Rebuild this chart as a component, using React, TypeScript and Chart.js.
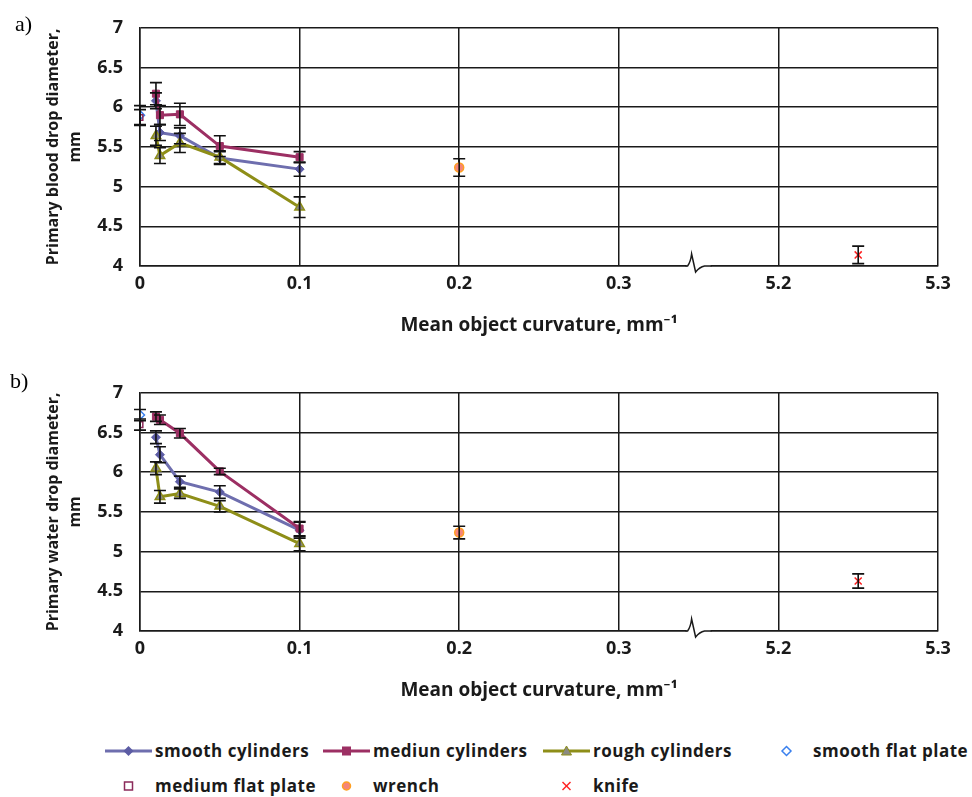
import React, { useEffect, useRef } from "react";
import { Chart, registerables } from "chart.js";

Chart.register(...registerables);

// ---------- data ----------
const cylinderCurvature = [0.01, 0.0125, 0.025, 0.05, 0.1];
const plateCurvature = 0;
const wrenchCurvature = 0.2;
const knifeCurvature = 5.25;

const xTickValues = [0, 0.1, 0.2, 0.3, 5.2, 5.3];
const xTickLabels = ["0", "0.1", "0.2", "0.3", "5.2", "5.3"];
const yMin = 4;
const yMax = 7;
const yStep = 0.5;

// a) blood
const bloodSmooth = [6.08, 5.68, 5.64, 5.36, 5.22];
const bloodSmoothErr = [0.1, 0.1, 0.1, 0.08, 0.09];
const bloodMedium = [6.17, 5.9, 5.91, 5.51, 5.37];
const bloodMediumErr = [0.14, 0.12, 0.14, 0.13, 0.07];
const bloodRough = [5.64, 5.39, 5.55, 5.37, 4.74];
const bloodRoughErr = [0.12, 0.1, 0.12, 0.08, 0.13];
const bloodSmoothPlate = [5.9];
const bloodSmoothPlateErr = [0.12];
const bloodMediumPlate = [5.87];
const bloodMediumPlateErr = [0.1];
const bloodWrench = [5.24];
const bloodWrenchErr = [0.11];
const bloodKnife = [4.14];
const bloodKnifeErr = [0.11];

// b) water
const waterSmooth = [6.44, 6.22, 5.88, 5.75, 5.27];
const waterSmoothErr = [0.08, 0.1, 0.07, 0.08, 0.1];
const waterMedium = [6.7, 6.66, 6.49, 6.01, 5.29];
const waterMediumErr = [0.06, 0.06, 0.06, 0.04, 0.09];
const waterRough = [6.05, 5.69, 5.73, 5.57, 5.1];
const waterRoughErr = [0.08, 0.08, 0.06, 0.07, 0.09];
const waterSmoothPlate = [6.72];
const waterSmoothPlateErr = [0.07];
const waterMediumPlate = [6.6];
const waterMediumPlateErr = [0.07];
const waterWrench = [5.24];
const waterWrenchErr = [0.08];
const waterKnife = [4.63];
const waterKnifeErr = [0.09];

const seriesLabels = [
  "smooth cylinders",
  "mediun cylinders",
  "rough cylinders",
  "smooth flat plate",
  "medium flat plate",
  "wrench",
  "knife",
];

// ---------- styling ----------
const FONT = "'Open Sans', 'Noto Sans', sans-serif";
const INK = "#1a1a1a";
const C_SMOOTH = "#6e6eae";
const C_SMOOTH_PT = "#5c5ca4";
const C_MEDIUM = "#9c2f63";
const C_ROUGH = "#8e8e18";
const C_ROUGH_PT = "#8a8a80";
const C_SPLATE = "#3a80ee";
const C_MPLATE = "#8b2a5a";
const C_WRENCH_FILL = "#f4857a";
const C_WRENCH_BORDER = "#ffa020";
const C_KNIFE = "#ff2020";

// axis break: values beyond the break are shifted left
const BREAK_AT = 0.35;
const BREAK_SHIFT = 4.8;
const mapX = (v: number) => (v > BREAK_AT ? v - BREAK_SHIFT : v);

const pts = (xs: number[], ys: number[]) => ys.map((y, i) => ({ x: mapX(xs[i]), y }));
const single = (x: number, ys: number[]) => ys.map((y) => ({ x: mapX(x), y }));

type SetData = {
  smooth: number[]; smoothErr: number[];
  medium: number[]; mediumErr: number[];
  rough: number[]; roughErr: number[];
  sPlate: number[]; sPlateErr: number[];
  mPlate: number[]; mPlateErr: number[];
  wrench: number[]; wrenchErr: number[];
  knife: number[]; knifeErr: number[];
};

function buildDatasets(d: SetData): any[] {
  return [
    {
      label: seriesLabels[0], data: pts(cylinderCurvature, d.smooth), errors: d.smoothErr,
      showLine: true, borderColor: C_SMOOTH, borderWidth: 3, tension: 0,
      pointStyle: "rectRot", pointRadius: 4.5, backgroundColor: C_SMOOTH_PT, pointBorderColor: C_SMOOTH_PT, pointBorderWidth: 1, order: 6,
    },
    {
      label: seriesLabels[1], data: pts(cylinderCurvature, d.medium), errors: d.mediumErr,
      showLine: true, borderColor: C_MEDIUM, borderWidth: 3, tension: 0,
      pointStyle: "rect", pointRadius: 5, backgroundColor: C_MEDIUM, pointBorderColor: C_MEDIUM, pointBorderWidth: 1, order: 5,
    },
    {
      label: seriesLabels[2], data: pts(cylinderCurvature, d.rough), errors: d.roughErr,
      showLine: true, borderColor: C_ROUGH, borderWidth: 3, tension: 0,
      pointStyle: "triangle", pointRadius: 5.5, backgroundColor: C_ROUGH_PT, pointBorderColor: C_ROUGH, pointBorderWidth: 1.5, order: 4,
    },
    {
      label: seriesLabels[3], data: single(plateCurvature, d.sPlate), errors: d.sPlateErr,
      showLine: false, pointStyle: "rectRot", pointRadius: 4.5, backgroundColor: "#ffffff", borderColor: C_SPLATE, pointBorderWidth: 1.5, order: 3,
    },
    {
      label: seriesLabels[4], data: single(plateCurvature, d.mPlate), errors: d.mPlateErr,
      showLine: false, pointStyle: "rect", pointRadius: 4, backgroundColor: "rgba(255,255,255,0)", borderColor: C_MPLATE, pointBorderWidth: 1.5, order: 2,
    },
    {
      label: seriesLabels[5], data: single(wrenchCurvature, d.wrench), errors: d.wrenchErr,
      showLine: false, pointStyle: "circle", pointRadius: 4.5, backgroundColor: C_WRENCH_FILL, borderColor: C_WRENCH_BORDER, pointBorderWidth: 1.5, order: 1,
    },
    {
      label: seriesLabels[6], data: single(knifeCurvature, d.knife), errors: d.knifeErr,
      showLine: false, pointStyle: "crossRot", pointRadius: 5, backgroundColor: C_KNIFE, borderColor: C_KNIFE, pointBorderWidth: 1.5, order: 0,
    },
  ];
}

const errorBarPlugin = {
  id: "errorBars",
  afterDatasetsDraw(chart: any) {
    const ctx = chart.ctx;
    const xs = chart.scales.x;
    const ys = chart.scales.y;
    ctx.save();
    ctx.strokeStyle = "#111111";
    ctx.lineWidth = 1.6;
    chart.data.datasets.forEach((ds: any) => {
      if (!ds.errors) return;
      ds.data.forEach((p: any, j: number) => {
        const e = ds.errors[j];
        if (!e) return;
        const x = xs.getPixelForValue(p.x);
        const y1 = ys.getPixelForValue(p.y + e);
        const y2 = ys.getPixelForValue(p.y - e);
        ctx.beginPath();
        ctx.moveTo(x, y1);
        ctx.lineTo(x, y2);
        ctx.moveTo(x - 6, y1);
        ctx.lineTo(x + 6, y1);
        ctx.moveTo(x - 6, y2);
        ctx.lineTo(x + 6, y2);
        ctx.stroke();
      });
    });
    ctx.restore();
  },
};

const axisBreakPlugin = {
  id: "axisBreak",
  afterDraw(chart: any) {
    const ctx = chart.ctx;
    const x = chart.scales.x.getPixelForValue(BREAK_AT);
    const y = chart.chartArea.bottom;
    ctx.save();
    ctx.fillStyle = "#ffffff";
    ctx.fillRect(x - 12, y - 3, 24, 6);
    ctx.strokeStyle = INK;
    ctx.lineWidth = 1.5;
    ctx.beginPath();
    ctx.moveTo(x - 13, y);
    ctx.lineTo(x - 11, y);
    ctx.quadraticCurveTo(x - 8, y - 4, x - 7, y - 12);
    ctx.lineTo(x - 3, y + 6);
    ctx.quadraticCurveTo(x + 1, y + 1, x + 6, y);
    ctx.lineTo(x + 13, y);
    ctx.stroke();
    ctx.restore();
  },
};

const CANVAS_W = 972;
const CANVAS_H = 345;
const PLOT_LEFT = 140;
const PLOT_RIGHT = 938;
const PLOT_TOP = 25;
const PLOT_BOTTOM = 266;

function DropChart({ data, yTitle }: { data: SetData; yTitle: string }) {
  const ref = useRef<HTMLCanvasElement | null>(null);
  useEffect(() => {
    if (!ref.current) return;
    const tickFont = { family: FONT, size: 18, weight: "bold" as const };
    const chart = new Chart(ref.current, {
      type: "scatter",
      data: { datasets: buildDatasets(data) },
      options: {
        animation: false,
        responsive: false,
        maintainAspectRatio: false,
        layout: { padding: { top: PLOT_TOP, right: CANVAS_W - PLOT_RIGHT, left: 0, bottom: 0 } },
        plugins: { legend: { display: false }, tooltip: { enabled: false } },
        scales: {
          x: {
            type: "linear",
            min: mapX(xTickValues[0]),
            max: mapX(xTickValues[xTickValues.length - 1]),
            afterBuildTicks: (s: any) => {
              s.ticks = xTickValues.map((v) => ({ value: mapX(v) }));
            },
            afterFit: (s: any) => {
              s.height = CANVAS_H - PLOT_BOTTOM;
            },
            ticks: {
              callback: (_v: any, i: number) => xTickLabels[i],
              font: tickFont,
              color: INK,
              padding: 7,
              maxRotation: 0,
              autoSkip: false,
            },
            grid: { color: INK, lineWidth: 1.5, drawTicks: false },
            border: { display: true, color: INK, width: 1.5 },
            title: {
              display: true,
              text: "Mean object curvature, mm\u207B\u00B9",
              font: { family: FONT, size: 19, weight: "bold" },
              color: INK,
              padding: { top: 0, bottom: 8 },
            },
          },
          y: {
            type: "linear",
            min: yMin,
            max: yMax,
            afterFit: (s: any) => {
              s.width = PLOT_LEFT;
            },
            ticks: {
              stepSize: yStep,
              font: tickFont,
              color: INK,
              padding: 17,
              callback: (v: any) => String(Number(v)),
            },
            grid: { color: INK, lineWidth: 1.5, drawTicks: false },
            border: { display: true, color: INK, width: 1.5 },
            title: {
              display: true,
              text: [yTitle, "mm"],
              font: { family: FONT, size: 16, weight: "bold", lineHeight: 1.35 },
              color: INK,
              padding: { top: 43, bottom: 0 },
            },
          },
        },
      } as any,
      plugins: [errorBarPlugin, axisBreakPlugin],
    });
    return () => chart.destroy();
  }, [data, yTitle]);
  return <canvas ref={ref} width={CANVAS_W} height={CANVAS_H} style={{ display: "block", width: CANVAS_W, height: CANVAS_H }} />;
}

const bloodData: SetData = {
  smooth: bloodSmooth, smoothErr: bloodSmoothErr,
  medium: bloodMedium, mediumErr: bloodMediumErr,
  rough: bloodRough, roughErr: bloodRoughErr,
  sPlate: bloodSmoothPlate, sPlateErr: bloodSmoothPlateErr,
  mPlate: bloodMediumPlate, mPlateErr: bloodMediumPlateErr,
  wrench: bloodWrench, wrenchErr: bloodWrenchErr,
  knife: bloodKnife, knifeErr: bloodKnifeErr,
};

const waterData: SetData = {
  smooth: waterSmooth, smoothErr: waterSmoothErr,
  medium: waterMedium, mediumErr: waterMediumErr,
  rough: waterRough, roughErr: waterRoughErr,
  sPlate: waterSmoothPlate, sPlateErr: waterSmoothPlateErr,
  mPlate: waterMediumPlate, mPlateErr: waterMediumPlateErr,
  wrench: waterWrench, wrenchErr: waterWrenchErr,
  knife: waterKnife, knifeErr: waterKnifeErr,
};

// ---------- legend ----------
function LegendMarker({ kind }: { kind: number }) {
  const w = 47, h = 14, cx = 23.5, cy = 7;
  const line = (c: string) => <line x1={0} y1={cy} x2={w} y2={cy} stroke={c} strokeWidth={3} />;
  switch (kind) {
    case 0:
      return (
        <svg width={w} height={h}>
          {line(C_SMOOTH)}
          <polygon points={`${cx},${cy - 5} ${cx + 5},${cy} ${cx},${cy + 5} ${cx - 5},${cy}`} fill={C_SMOOTH_PT} />
        </svg>
      );
    case 1:
      return (
        <svg width={w} height={h}>
          {line(C_MEDIUM)}
          <rect x={cx - 4.5} y={cy - 4.5} width={9} height={9} fill={C_MEDIUM} />
        </svg>
      );
    case 2:
      return (
        <svg width={w} height={h}>
          {line(C_ROUGH)}
          <polygon points={`${cx},${cy - 5} ${cx + 5},${cy + 4} ${cx - 5},${cy + 4}`} fill={C_ROUGH_PT} stroke={C_ROUGH} strokeWidth={1} />
        </svg>
      );
    case 3:
      return (
        <svg width={w} height={h}>
          <polygon points={`${cx},${cy - 4.5} ${cx + 4.5},${cy} ${cx},${cy + 4.5} ${cx - 4.5},${cy}`} fill="#fff" stroke={C_SPLATE} strokeWidth={1.5} />
        </svg>
      );
    case 4:
      return (
        <svg width={w} height={h}>
          <rect x={cx - 4} y={cy - 4} width={8} height={8} fill="#fff" stroke={C_MPLATE} strokeWidth={1.5} />
        </svg>
      );
    case 5:
      return (
        <svg width={w} height={h}>
          <circle cx={cx} cy={cy} r={4} fill={C_WRENCH_FILL} stroke={C_WRENCH_BORDER} strokeWidth={1.5} />
        </svg>
      );
    default:
      return (
        <svg width={w} height={h}>
          <line x1={cx - 4} y1={cy - 4} x2={cx + 4} y2={cy + 4} stroke={C_KNIFE} strokeWidth={1.5} />
          <line x1={cx - 4} y1={cy + 4} x2={cx + 4} y2={cy - 4} stroke={C_KNIFE} strokeWidth={1.5} />
        </svg>
      );
  }
}

const legendCols = [105, 323, 543, 763];
const legendRows = [751, 786];

function Legend() {
  return (
    <>
      {seriesLabels.map((label, i) => {
        const col = i < 4 ? i : i - 4;
        const row = i < 4 ? 0 : 1;
        const left = legendCols[col];
        const cy = legendRows[row];
        return (
          <div key={label} style={{ position: "absolute", left, top: cy - 12, height: 24, display: "flex", alignItems: "center" }}>
            <LegendMarker kind={i} />
            <span style={{ marginLeft: 3, fontFamily: FONT, fontWeight: 700, fontSize: 17, letterSpacing: 0.5, color: INK, lineHeight: "24px", whiteSpace: "nowrap" }}>{label}</span>
          </div>
        );
      })}
    </>
  );
}

export default function App() {
  return (
    <div style={{ position: "absolute", left: 0, top: 0, width: 972, height: 797, background: "#ffffff", overflow: "hidden" }}>
      <div style={{ position: "absolute", left: 0, top: 0 }}>
        <DropChart data={bloodData} yTitle="Primary blood drop diameter," />
      </div>
      <div style={{ position: "absolute", left: 0, top: 365 }}>
        <DropChart data={waterData} yTitle="Primary water drop diameter," />
      </div>
      <div style={{ position: "absolute", left: 15, top: 11, fontFamily: "'Liberation Serif', serif", fontSize: 22 }}>a)</div>
      <div style={{ position: "absolute", left: 10, top: 368, fontFamily: "'Liberation Serif', serif", fontSize: 22 }}>b)</div>
      <Legend />
    </div>
  );
}
